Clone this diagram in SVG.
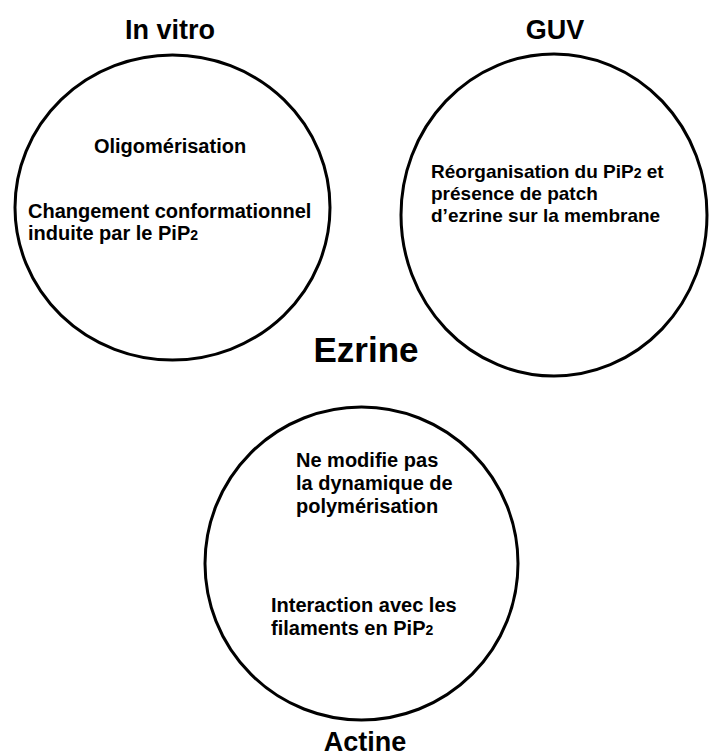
<svg xmlns="http://www.w3.org/2000/svg" width="709" height="756" viewBox="0 0 709 756">
<style>
  .c { fill: none; stroke: #000; stroke-width: 3; }
  .t { font-family: "Liberation Sans", Arial, sans-serif; font-weight: bold; fill: #000; }
  .title { font-size: 27px; text-anchor: middle; }
  .big { font-size: 35px; text-anchor: middle; }
  .s { font-size: 20px; }
  .sub { font-size: 14px; }
</style>
<rect width="709" height="756" fill="#fff"/>
<g id="invitro">
  <ellipse class="c" cx="172.5" cy="207.5" rx="157.5" ry="152.5"/>
  <text class="t title" x="170" y="39">In vitro</text>
  <text class="t s" x="170" y="153" text-anchor="middle">Oligomérisation</text>
  <text class="t s" x="28" y="218">Changement conformationnel</text>
  <text class="t s" x="28" y="240">induite par le PiP<tspan class="sub">2</tspan></text>
</g>
<g id="guv">
  <ellipse class="c" cx="554" cy="215" rx="153" ry="161"/>
  <text class="t title" x="555" y="39">GUV</text>
  <text class="t s" x="431" y="178" style="font-size:19px">Réorganisation du PiP<tspan class="sub">2</tspan> et</text>
  <text class="t s" x="431" y="200" style="font-size:19px">présence de patch</text>
  <text class="t s" x="431" y="222" style="font-size:19px">d’ezrine sur la membrane</text>
</g>
<g id="ezrine">
  <text class="t big" x="366" y="362">Ezrine</text>
</g>
<g id="actine">
  <ellipse class="c" cx="361.5" cy="563.5" rx="156.5" ry="156.5"/>
  <text class="t s" x="296" y="467">Ne modifie pas</text>
  <text class="t s" x="296" y="490">la dynamique de</text>
  <text class="t s" x="296" y="513">polymérisation</text>
  <text class="t s" x="271" y="612">Interaction avec les</text>
  <text class="t s" x="271" y="635">filaments en PiP<tspan class="sub">2</tspan></text>
  <text class="t title" x="365" y="751">Actine</text>
</g>
<g id="connectors"></g>
</svg>
